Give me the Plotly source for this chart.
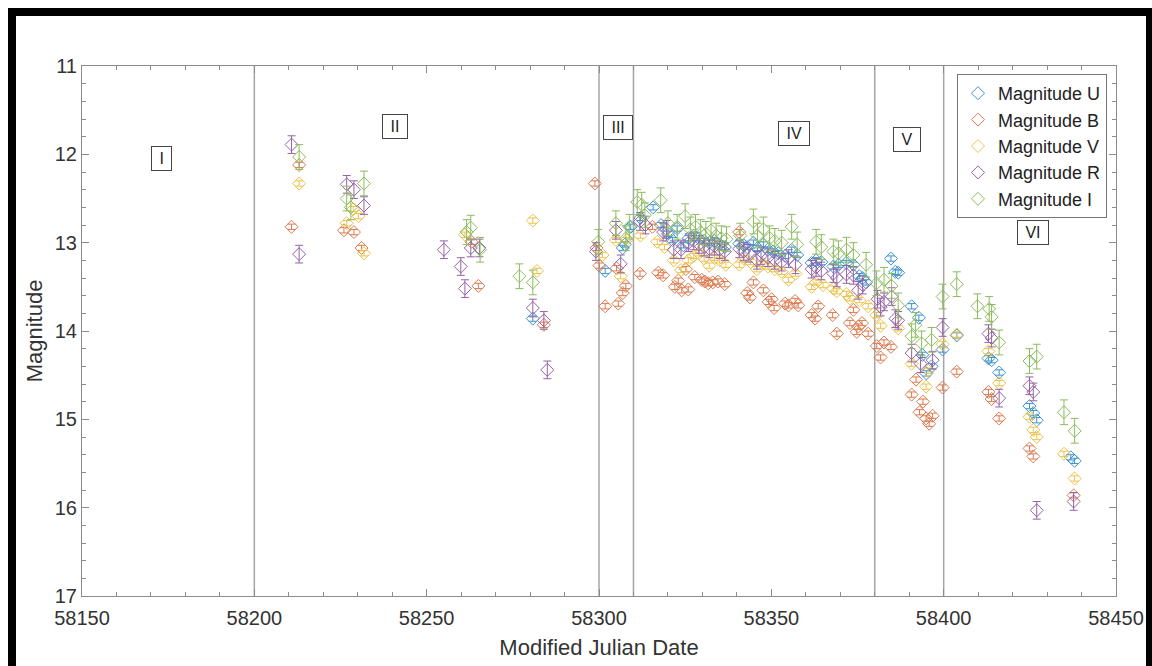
import plotly.graph_objects as go

# ---- Light-curve data (MJD, magnitude) per photometric band ----
u_mjd = [58280.8, 58301.8, 58306.9, 58307.5, 58309.2, 58312.0, 58315.7, 58318.0, 58320.0, 58321.3,
         58322.7, 58324.5, 58326.0, 58327.5, 58329.0, 58330.5, 58332.0, 58333.5, 58335.0, 58336.5,
         58340.7, 58342.0, 58343.0, 58344.8, 58346.0, 58347.7, 58349.0, 58350.5, 58352.0, 58354.0,
         58355.9, 58357.5, 58361.7, 58363.0, 58364.5, 58368.0, 58369.5, 58371.7, 58373.8, 58375.5,
         58376.5, 58377.5, 58384.7, 58386.0, 58386.8, 58390.7, 58392.8, 58393.8, 58395.0, 58396.5,
         58399.7, 58403.8, 58413.0, 58413.9, 58416.1, 58424.9, 58426.0, 58427.0, 58436.9, 58438.0]
u_mag = [13.86, 13.32, 13.06, 13.02, 12.82, 12.72, 12.60, 12.80, 12.90, 12.97,
         12.84, 13.03, 12.95, 12.92, 12.95, 12.98, 13.00, 12.98, 13.02, 13.05,
         13.01, 13.03, 13.05, 13.00, 13.06, 13.02, 13.08, 13.10, 13.12, 13.15,
         13.08, 13.14, 13.23, 13.20, 13.22, 13.27, 13.25, 13.23, 13.25, 13.38,
         13.40, 13.45, 13.18, 13.33, 13.34, 13.72, 13.85, 14.27, 14.48, 14.40,
         14.21, 14.05, 14.31, 14.33, 14.47, 14.85, 14.93, 15.01, 15.43, 15.47]

b_mjd = [58210.8, 58213.0, 58226.0, 58228.9, 58231.1, 58263.0, 58265.0, 58284.0, 58298.8, 58299.3,
         58300.1, 58301.8, 58305.1, 58305.6, 58306.9, 58307.8, 58311.9, 58315.5, 58317.2, 58318.6,
         58322.0, 58323.0, 58324.0, 58325.2, 58325.9, 58327.8, 58329.8, 58330.7, 58331.7, 58333.0,
         58334.5, 58336.5, 58340.7, 58343.0, 58343.8, 58344.8, 58347.7, 58349.2, 58350.1, 58350.8,
         58354.0, 58355.0, 58356.9, 58357.8, 58361.7, 58362.7, 58363.6, 58367.8, 58369.0, 58372.8,
         58373.8, 58374.8, 58375.2, 58376.3, 58378.1, 58380.6, 58381.7, 58382.7, 58384.7, 58390.7,
         58392.0, 58393.0, 58394.0, 58394.9, 58395.8, 58396.8, 58399.7, 58403.8, 58413.0, 58413.9,
         58416.1, 58424.9, 58426.0, 58437.7]
b_mag = [12.82, 12.12, 12.86, 12.88, 13.06, 12.99, 13.49, 13.93, 12.33, 13.06,
         13.26, 13.72, 13.29, 13.69, 13.57, 13.49, 13.35, 12.82, 13.34, 13.37,
         13.50, 13.43, 13.54, 13.30, 13.53, 13.39, 13.42, 13.44, 13.46, 13.45,
         13.44, 13.47, 12.88, 13.57, 13.62, 13.45, 13.54, 13.67, 13.64, 13.74,
         13.69, 13.71, 13.66, 13.71, 13.82, 13.86, 13.72, 13.82, 14.03, 13.91,
         13.76, 14.01, 13.95, 13.91, 14.03, 14.17, 14.30, 14.13, 14.18, 14.72,
         14.55, 14.92, 14.80, 14.99, 15.05, 14.96, 14.64, 14.46, 14.69, 14.77,
         14.99, 15.33, 15.42, 15.86]

v_mjd = [58213.0, 58226.8, 58228.7, 58230.2, 58231.8, 58261.1, 58280.8, 58282.0, 58301.0, 58304.9,
         58306.3, 58308.0, 58312.0, 58316.9, 58319.0, 58321.7, 58323.8, 58325.9, 58327.5, 58329.0,
         58330.5, 58332.0, 58333.5, 58335.0, 58336.8, 58340.7, 58342.0, 58344.0, 58345.8, 58347.5,
         58349.0, 58351.0, 58353.0, 58355.0, 58357.0, 58361.7, 58363.0, 58365.0, 58368.0, 58369.0,
         58371.8, 58372.8, 58375.5, 58378.1, 58380.5, 58381.7, 58386.8, 58390.7, 58394.9, 58395.5,
         58399.7, 58403.8, 58413.0, 58416.1, 58424.9, 58426.0, 58427.0, 58434.9, 58438.0]
v_mag = [12.33, 12.78, 12.62, 12.70, 13.12, 12.91, 12.75, 13.32, 13.14, 12.97,
         13.38, 12.97, 12.92, 12.99, 13.05, 13.20, 13.31, 13.20, 13.15, 13.12,
         13.18, 13.26, 13.17, 13.20, 13.25, 13.25, 13.18, 13.22, 13.30, 13.24,
         13.27, 13.30, 13.33, 13.42, 13.35, 13.50, 13.45, 13.48, 13.52, 13.55,
         13.58, 13.63, 13.65, 13.72, 13.82, 13.94, 13.97, 14.37, 14.63, 14.45,
         14.15, 14.04, 14.23, 14.59, 14.97, 15.12, 15.20, 15.39, 15.67]

r_mjd = [58210.8, 58213.0, 58226.8, 58228.9, 58231.8, 58255.0, 58259.9, 58261.1, 58262.8, 58265.3,
         58280.8, 58284.0, 58285.0, 58299.1, 58304.9, 58306.3, 58311.9, 58313.5, 58318.6, 58319.6,
         58321.7, 58323.8, 58326.0, 58327.5, 58329.0, 58330.5, 58332.0, 58333.5, 58335.0, 58336.5,
         58340.7, 58342.0, 58343.5, 58345.8, 58347.0, 58349.0, 58351.0, 58353.0, 58355.0, 58357.0,
         58361.7, 58363.0, 58364.5, 58368.0, 58369.0, 58371.8, 58373.8, 58375.2, 58376.5, 58380.8,
         58381.7, 58382.7, 58384.9, 58386.0, 58386.8, 58390.7, 58393.3, 58396.8, 58399.7, 58413.0,
         58413.9, 58416.1, 58424.9, 58426.0, 58427.0, 58437.7]
r_mag = [11.89, 13.13, 12.34, 12.40, 12.58, 13.08, 13.27, 13.52, 13.06, 13.06,
         13.74, 13.88, 14.44, 13.10, 12.86, 13.24, 12.76, 12.80, 12.88, 12.85,
         13.08, 13.08, 13.00, 12.98, 13.02, 13.05, 13.07, 13.04, 13.08, 13.10,
         13.07, 13.10, 13.12, 13.20, 13.15, 13.17, 13.20, 13.22, 13.18, 13.25,
         13.30, 13.28, 13.32, 13.35, 13.40, 13.36, 13.37, 13.54, 13.48, 13.64,
         13.73, 13.67, 13.61, 13.86, 13.88, 14.25, 14.37, 14.33, 13.96, 14.03,
         14.08, 14.76, 14.62, 14.69, 16.03, 15.93]

i_mjd = [58213.0, 58226.8, 58228.0, 58231.8, 58261.6, 58262.8, 58265.5, 58276.9, 58280.8, 58299.8,
         58304.9, 58307.8, 58308.8, 58311.1, 58312.4, 58313.3, 58317.9, 58320.0, 58322.7, 58325.0,
         58326.5, 58328.0, 58329.5, 58331.0, 58332.5, 58334.0, 58335.5, 58337.0, 58341.0, 58344.8,
         58346.0, 58347.7, 58349.5, 58351.0, 58353.0, 58355.9, 58357.5, 58363.0, 58364.5, 58368.0,
         58369.5, 58371.8, 58373.8, 58377.5, 58380.5, 58382.7, 58384.9, 58386.8, 58390.7, 58391.8,
         58393.6, 58396.5, 58399.7, 58403.8, 58409.8, 58413.2, 58413.9, 58416.1, 58424.9, 58427.0,
         58434.9, 58438.0]
i_mag = [12.03, 12.50, 12.60, 12.33, 12.88, 12.83, 13.08, 13.38, 13.45, 12.99,
         12.78, 12.95, 12.82, 12.54, 12.57, 12.69, 12.52, 12.78, 12.82, 12.70,
         12.85, 12.82, 12.88, 12.90, 12.86, 12.92, 12.95, 12.96, 12.92, 12.76,
         12.92, 12.85, 12.95, 12.98, 13.00, 12.82, 13.02, 12.99, 13.05, 13.10,
         13.12, 13.08, 13.14, 13.25, 13.46, 13.42, 13.49, 13.71, 14.06, 13.93,
         14.14, 14.10, 13.61, 13.47, 13.72, 13.75, 13.84, 14.13, 14.34, 14.29,
         14.92, 15.13]

# typical photometric uncertainty of each band (mag)
u_err, b_err, v_err, r_err, i_err = 0.03, 0.03, 0.03, 0.10, 0.14

# phase boundaries and phase labels
phase_bounds = [58200, 58300, 58310, 58380, 58400]
phase_names = ["I", "II", "III", "IV", "V", "VI"]
phase_x = [58173.2, 58240.8, 58305.5, 58356.6, 58389.3, 58425.9]
phase_y = [12.05, 11.68, 11.70, 11.76, 11.83, 12.89]

bands = [
    ("Magnitude U", u_mjd, u_mag, u_err, "#3d94cf"),
    ("Magnitude B", b_mjd, b_mag, b_err, "#dd7a4e"),
    ("Magnitude V", v_mjd, v_mag, v_err, "#ecc24a"),
    ("Magnitude R", r_mjd, r_mag, r_err, "#9563a8"),
    ("Magnitude I", i_mjd, i_mag, i_err, "#8dbb5c"),
]

FONT = "Liberation Sans, Arial, Helvetica, sans-serif"
AXIS_GRAY = "#8c8c8c"

fig = go.Figure()
for name, xs, ys, err, col in bands:
    fig.add_trace(go.Scatter(
        x=xs, y=ys, mode="markers", name=name,
        marker=dict(symbol="diamond-open", size=10, color=col, line=dict(width=1, color=col)),
        error_y=dict(type="constant", value=err, color=col, thickness=1, width=4),
    ))

# plot-area geometry in pixels (used to place the outer frame and legend)
W, H = 1152, 666
L, R, T, B = 82, 36, 66, 70
pw, ph = W - L - R, H - T - B


def px(x):
    return (x - L) / pw


def py(y):
    return 1 - (y - T) / ph


shapes = []
for xb in phase_bounds:
    shapes.append(dict(type="line", xref="x", yref="y", x0=xb, x1=xb, y0=11, y1=17,
                       line=dict(color="#a6a6a6", width=1.5), layer="below"))

# black frame along the top, left and right of the figure
for x0, x1, y0, y1 in [(8, 1152, 8, 16), (8, 16, 8, 666), (1146, 1152, 8, 666)]:
    shapes.append(dict(type="rect", xref="paper", yref="paper",
                       x0=px(x0), x1=px(x1), y0=py(y1), y1=py(y0),
                       fillcolor="black", line=dict(width=0), layer="above"))

annotations = []
for nm, xa, ya in zip(phase_names, phase_x, phase_y):
    annotations.append(dict(x=xa, y=ya, xref="x", yref="y", text=" " + nm + " ",
                            showarrow=False, font=dict(family=FONT, size=16, color="#222"),
                            bordercolor="#444", borderwidth=1, borderpad=3, bgcolor="white"))

fig.update_layout(
    width=W, height=H,
    margin=dict(l=L, r=R, t=T, b=B, autoexpand=False),
    paper_bgcolor="white", plot_bgcolor="white",
    font=dict(family=FONT, size=20, color="#333"),
    shapes=shapes, annotations=annotations,
    showlegend=True,
    legend=dict(x=px(1107), y=py(74), xanchor="right", yanchor="top",
                bgcolor="white", bordercolor="#777", borderwidth=1,
                font=dict(family=FONT, size=18, color="#222"),
                itemwidth=30, tracegroupgap=0),
    xaxis=dict(range=[58150, 58450], dtick=50, tick0=58150, tickformat="d",
               showgrid=False, zeroline=False, automargin=False,
               showline=True, linecolor=AXIS_GRAY, linewidth=1, mirror="ticks",
               ticks="inside", ticklen=7, tickcolor=AXIS_GRAY, ticklabelstandoff=4,
               minor=dict(dtick=10, ticks="inside", ticklen=4, tickcolor=AXIS_GRAY),
               tickfont=dict(family=FONT, size=20, color="#333"),
               title=dict(text="Modified Julian Date", font=dict(family=FONT, size=22, color="#333"),
                          standoff=11)),
    yaxis=dict(range=[17, 11], dtick=1, tick0=11, showgrid=False, zeroline=False, automargin=False,
               showline=True, linecolor=AXIS_GRAY, linewidth=1, mirror="ticks",
               ticks="inside", ticklen=7, tickcolor=AXIS_GRAY,
               minor=dict(dtick=0.2, ticks="inside", ticklen=4, tickcolor=AXIS_GRAY),
               tickfont=dict(family=FONT, size=20, color="#333"),
               title=dict(text="Magnitude", font=dict(family=FONT, size=22, color="#333"),
                          standoff=6)),
)

fig.write_html("out.html", config={"displayModeBar": False})
